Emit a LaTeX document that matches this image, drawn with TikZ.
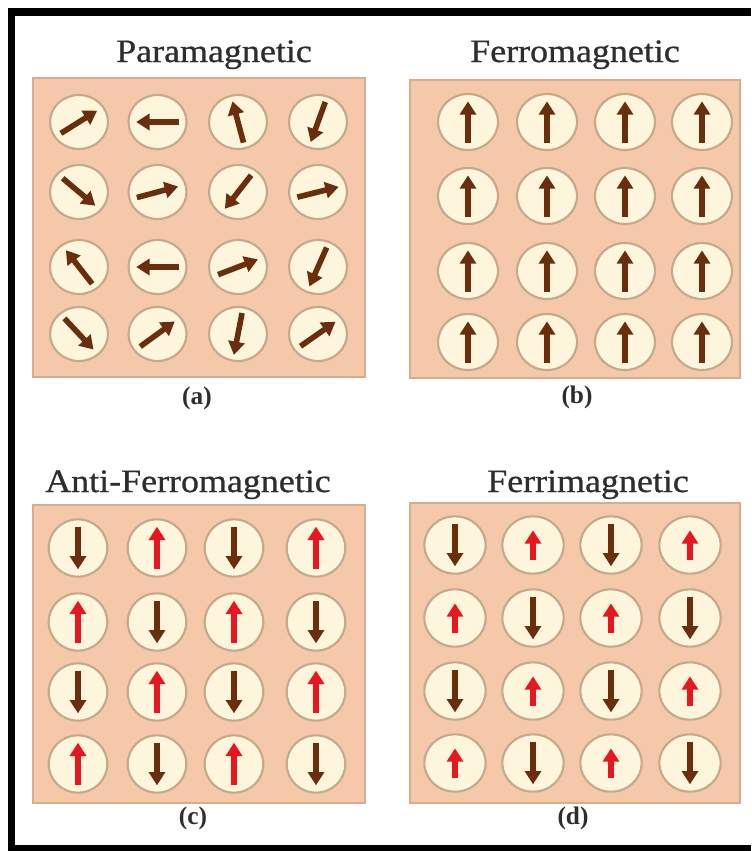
\documentclass[tikz,border=0pt]{standalone}
\usepackage{fontspec}
\usepackage{graphicx}
\setmainfont{Liberation Serif}
\newfontfamily\titlefont[FakeBold=0.7]{Liberation Serif}
\usetikzlibrary{arrows.meta,shapes.geometric}
\definecolor{peach}{HTML}{F6C8AA}
\definecolor{peachedge}{HTML}{D9AB90}
\definecolor{cream}{HTML}{FDF6DC}
\definecolor{creamedge}{HTML}{C4A98A}
\definecolor{spinbrown}{HTML}{6A2E0C}
\definecolor{spinred}{HTML}{E8161E}
\definecolor{titlegrey}{HTML}{2E2E2E}
\begin{document}
\begin{tikzpicture}[x=0.75pt,y=-0.75pt,
  panel/.style={fill=peach, draw=peachedge, line width=1.2pt},
  site/.style={shape=ellipse, fill=cream, draw=creamedge, line width=1.6pt, inner sep=0pt},
  spin/.style={line width=4.2pt, -{Triangle[length=10pt,width=12pt]}},
  title/.style={font=\titlefont\fontsize{24.5}{28}\selectfont, text=titlegrey, anchor=base},
  sublabel/.style={font=\fontsize{19}{22}\selectfont\bfseries, text=titlegrey}
]
\useasboundingbox[fill=white] (0,0) rectangle (751,851);
% frame
\fill[black] (8,8) rectangle (751,16);
\fill[black] (8,8) rectangle (15,851);
\fill[black] (8,845) rectangle (751,851);

% panels
\draw[panel] (33,78) rectangle (365,377);
\draw[panel] (410,80) rectangle (740,378);
\draw[panel] (33,505) rectangle (365,803);
\draw[panel] (410,503) rectangle (740,803);

% titles
\node[title] (ta) at (214,62) {\scalebox{1.1}[1]{Paramagnetic}};
\node[title] (tb) at (575,62) {\scalebox{1.1}[1]{Ferromagnetic}};
\node[title] (tc) at (188,492) {\scalebox{1.1}[1]{Anti-Ferromagnetic}};
\node[title] (td) at (588,492) {\scalebox{1.1}[1]{Ferrimagnetic}};

% sub labels
\node[sublabel] (la) at (197,398) {(a)};
\node[sublabel] (lb) at (577,397) {(b)};
\node[sublabel] (lc) at (193,818) {(c)};
\node[sublabel] (ld) at (573,818) {(d)};

% sites
\foreach \r/\y in {1/122,2/192,3/267,4/334}
  \foreach \c/\x in {1/79,2/157.5,3/238,4/318}
    \node[site, minimum width=43.5pt, minimum height=40.5pt] (a\r\c) at (\x,\y) {};
\foreach \r/\y in {1/122,2/196,3/271,4/342}
  \foreach \c/\x in {1/468,2/547,3/625,4/702}
    \node[site, minimum width=45pt, minimum height=42pt] (b\r\c) at (\x,\y) {};
\foreach \r/\y in {1/548,2/622,3/692,4/764}
  \foreach \c/\x in {1/78,2/157,3/234,4/316}
    \node[site, minimum width=44pt, minimum height=43pt] (c\r\c) at (\x,\y) {};
\foreach \r/\y in {1/545,2/618,3/691,4/763}
  \foreach \c/\x in {1/455,2/533,3/611,4/690}
    \node[site, minimum width=46pt, minimum height=43pt] (d\r\c) at (\x,\y) {};

% paramagnetic spins
\foreach \n/\ang in {a11/32, a12/180, a13/105, a14/250,
                     a21/320, a22/15, a23/232, a24/14,
                     a31/128, a32/180, a33/21, a34/246,
                     a41/313, a42/36, a43/259, a44/35}
  \draw[spin, spinbrown] ([shift={(\ang+180:16pt)}]\n.center) -- ([shift={(\ang:16pt)}]\n.center);

% ferromagnetic spins
\foreach \r in {1,2,3,4}
  \foreach \c in {1,2,3,4}
    \draw[spin, spinbrown] ([shift={(270:15.5pt)}]b\r\c.center) -- ([shift={(90:15.5pt)}]b\r\c.center);

% antiferromagnetic spins
\foreach \n/\ang/\col in {c11/270/spinbrown, c12/90/spinred, c13/270/spinbrown, c14/90/spinred,
                          c21/90/spinred, c22/270/spinbrown, c23/90/spinred, c24/270/spinbrown,
                          c31/270/spinbrown, c32/90/spinred, c33/270/spinbrown, c34/90/spinred,
                          c41/90/spinred, c42/270/spinbrown, c43/90/spinred, c44/270/spinbrown}
  \draw[spin, \col] ([shift={(\ang+180:16pt)}]\n.center) -- ([shift={(\ang:16pt)}]\n.center);

% ferrimagnetic spins
\foreach \n/\ang/\h/\col in {d11/270/16pt/spinbrown, d12/90/11pt/spinred, d13/270/16pt/spinbrown, d14/90/11pt/spinred,
                             d21/90/11pt/spinred, d22/270/16pt/spinbrown, d23/90/11pt/spinred, d24/270/16pt/spinbrown,
                             d31/270/16pt/spinbrown, d32/90/11pt/spinred, d33/270/16pt/spinbrown, d34/90/11pt/spinred,
                             d41/90/11pt/spinred, d42/270/16pt/spinbrown, d43/90/11pt/spinred, d44/270/16pt/spinbrown}
  \draw[spin, \col] ([shift={(\ang+180:\h)}]\n.center) -- ([shift={(\ang:\h)}]\n.center);
\end{tikzpicture}
\end{document}
